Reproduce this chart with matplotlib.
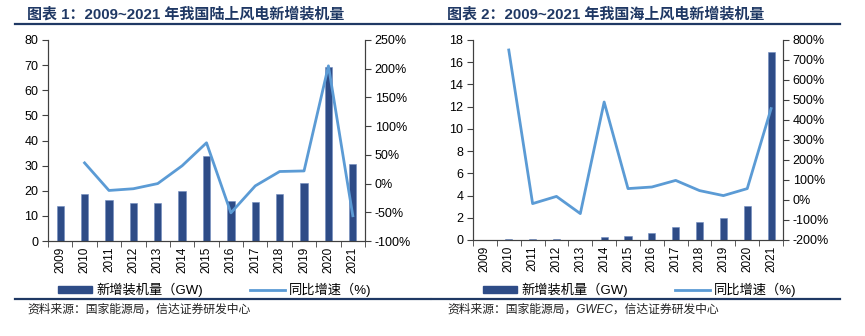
import matplotlib
matplotlib.use('Agg')
import matplotlib.pyplot as plt
from matplotlib.lines import Line2D
import numpy as np

plt.rcParams['font.family'] = ['Liberation Sans', 'Noto Sans CJK SC']
plt.rcParams['axes.unicode_minus'] = False

years = ['2009', '2010', '2011', '2012', '2013', '2014', '2015',
         '2016', '2017', '2018', '2019', '2020', '2021']

# 陆上
onshore_gw = [13.8, 18.9, 16.5, 15.1, 15.1, 19.8, 33.9, 16.0, 15.4, 18.6, 23.0, 69.3, 30.7]
onshore_yoy = [np.nan, 36, -12, -9, 0, 31, 71, -51, -4, 21, 22, 205, -56]

# 海上
offshore_gw = [0.0, 0.05, 0.05, 0.05, 0.02, 0.23, 0.36, 0.59, 1.16, 1.65, 1.98, 3.06, 16.9]
offshore_yoy = [np.nan, 750, -18, 18, -68, 490, 57, 65, 98, 47, 22, 57, 457]

bar_c = '#2E4C87'
line_c = '#5B9BD5'
navy = '#1F3864'
fs = 8.5

fig = plt.figure(figsize=(8.65, 3.36), dpi=100)


def panel(rect, gw, yoy, ylim, ystep, plim, pstep, title, source, tx, lx, ly_x0, ly_x1):
    ax = fig.add_axes(rect)
    x = np.arange(len(years))
    ax.bar(x, gw, width=0.3, color=bar_c, edgecolor='#6F8BC0', linewidth=0.4, zorder=2)
    ax.set_xlim(-0.5, len(years) - 0.5)
    ax.set_ylim(*ylim)
    ax.set_yticks(np.arange(ylim[0], ylim[1] + 0.1, ystep))
    ax.set_xticks(x)
    ax.set_xticklabels(years, rotation=90, fontsize=fs)
    ax.set_xticks(np.arange(-0.5, len(years)), minor=True)
    ax.tick_params(axis='x', which='major', length=0, pad=4)
    ax.tick_params(axis='x', which='minor', length=4, direction='out', color='#404040')
    ax.tick_params(axis='y', labelsize=fs + 0.5, length=4, color='#404040', pad=3)
    ax.spines['top'].set_visible(False)
    for s in ['left', 'bottom', 'right']:
        ax.spines[s].set_color('#404040')

    ax2 = ax.twinx()
    ax2.plot(x, yoy, color=line_c, linewidth=2, zorder=3)
    ax2.set_ylim(*plim)
    ax2.set_yticks(np.arange(plim[0], plim[1] + 0.1, pstep))
    ax2.set_yticklabels([f'{int(v)}%' for v in ax2.get_yticks()])
    ax2.tick_params(axis='y', labelsize=fs + 0.5, length=4, color='#404040', pad=3)
    ax2.spines['top'].set_visible(False)
    for s in ['left', 'bottom', 'right']:
        ax2.spines[s].set_color('#404040')

    handles = [plt.Rectangle((0, 0), 1, 1, color=bar_c),
               Line2D([0], [0], color=line_c, linewidth=2)]
    fig.legend(handles, ['新增装机量（GW)', '同比增速（%)'], loc='center left',
               bbox_to_anchor=(lx / 865, 1 - 290 / 336), ncol=2, frameon=False,
               fontsize=9.5, handlelength=2.6, handleheight=0.5, handletextpad=0.3,
               columnspacing=3.6, borderpad=0, borderaxespad=0)

    fig.text(tx / 865, 1 - 14 / 336, title, fontsize=10.8, fontweight='bold',
             color=navy, va='center', ha='left')
    fig.add_artist(Line2D([ly_x0 / 865, ly_x1 / 865], [1 - 24 / 336] * 2,
                          color=navy, linewidth=1.6, transform=fig.transFigure))
    fig.add_artist(Line2D([ly_x0 / 865, ly_x1 / 865], [1 - 299 / 336] * 2,
                          color=navy, linewidth=1.6, transform=fig.transFigure))
    fig.text(tx / 865, 1 - 310 / 336, source, fontsize=8.5, style='italic',
             color='#222222', va='center', ha='left')


panel([48 / 865, 1 - 241 / 336, 317 / 865, 201 / 336], onshore_gw, onshore_yoy,
      (0, 80), 10, (-100, 250), 50,
      '图表 1：2009~2021 年我国陆上风电新增装机量',
      '资料来源：国家能源局，信达证券研发中心', 27, 58, 15, 430)

panel([473 / 865, 1 - 240 / 336, 310 / 865, 200 / 336], offshore_gw, offshore_yoy,
      (0, 18), 2, (-200, 800), 100,
      '图表 2：2009~2021 年我国海上风电新增装机量',
      '资料来源：国家能源局，GWEC，信达证券研发中心', 447, 483, 432, 840)

fig.savefig('out.png', dpi=100)
